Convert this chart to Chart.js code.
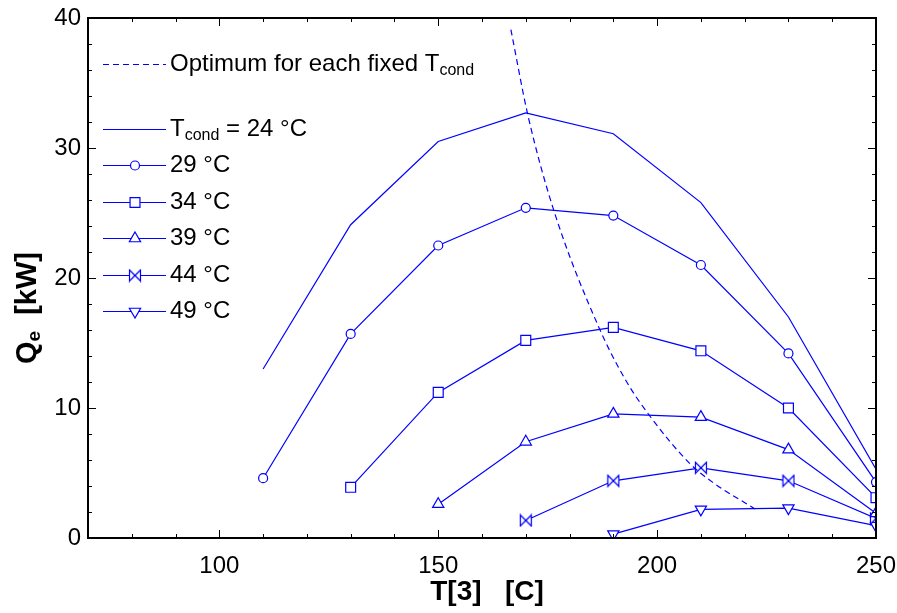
<!DOCTYPE html>
<html>
<head>
<meta charset="utf-8">
<title>Qe vs T[3]</title>
<script src="https://cdn.jsdelivr.net/npm/chart.js@4.4.1/dist/chart.umd.min.js"></script>
<style>
  html, body { margin: 0; padding: 0; background: #fff; }
  #wrap { width: 897px; height: 613px; }
</style>
</head>
<body>
<div id="wrap"><canvas id="chart" width="897" height="613"></canvas></div>
<script>
/* ─── Data ───────────────────────────────────────────────────────────────── */
const t3     = [110, 130, 150, 170, 190, 210, 230, 250];
const qe24   = [13.0, 24.1, 30.5, 32.7, 31.1, 25.8, 17.0, 5.3];
const qe29   = [4.6, 15.7, 22.5, 25.4, 24.8, 21.0, 14.2, 4.3];
const qe34   = [null, 3.9, 11.2, 15.2, 16.2, 14.4, 10.0, 3.1];
const qe39   = [null, null, 2.6, 7.4, 9.55, 9.3, 6.8, 1.9];
const qe44   = [null, null, null, 1.35, 4.4, 5.4, 4.4, 1.5];
const qe49   = [null, null, null, null, 0.3, 2.2, 2.3, 0.95];
const optT3  = [166.6, 170.5, 176.4, 186.7, 192.8, 198.6, 207.5, 212.7, 222.4];
const optQe  = [39.1, 32.5, 25.2, 16.2, 12.15, 9.27, 5.72, 4.28, 2.23];
const xTickLabels = [100, 150, 200, 250];
const yTickLabels = [0, 10, 20, 30, 40];

const BLUE = '#0000ff';
const FONT = '"Liberation Sans", Arial, sans-serif';

Chart.defaults.font.family = FONT;
Chart.defaults.color = '#000';

/* ─── Helpers ────────────────────────────────────────────────────────────── */
function pts(xs, ys) {
  return xs.map((x, i) => ({ x, y: ys[i] })).filter(p => p.y !== null);
}

// bowtie marker |><| as a small canvas
function bowtieMarker() {
  const c = document.createElement('canvas');
  c.width = 14; c.height = 14;
  const g = c.getContext('2d');
  g.strokeStyle = BLUE;
  g.fillStyle = '#fff';
  g.lineWidth = 1.2;
  g.beginPath();
  g.moveTo(1.5, 1.5); g.lineTo(12.5, 12.5); g.lineTo(12.5, 1.5); g.lineTo(1.5, 12.5); g.closePath();
  g.fill(); g.stroke();
  return c;
}
const bowtie = bowtieMarker();

function series(label, ys, style, radius, rotation = 0) {
  return {
    label,
    data: pts(t3, ys),
    borderColor: BLUE,
    borderWidth: 1.2,
    backgroundColor: '#fff',
    pointStyle: style,
    pointRadius: style ? radius : 0,
    pointRotation: rotation,
    pointBorderWidth: 1.2,
    pointBackgroundColor: '#fff',
    pointBorderColor: BLUE,
    tension: 0
  };
}

// text with a subscript piece: parts = [[text, size, dy, bold]]
function richText(ctx, parts, x, y, align = 'left') {
  let total = 0;
  parts.forEach(([t, s, , b]) => { ctx.font = `${b ? 'bold ' : ''}${s}px ${FONT}`; total += ctx.measureText(t).width; });
  let cx = align === 'center' ? x - total / 2 : x;
  ctx.textAlign = 'left';
  parts.forEach(([t, s, dy, b]) => {
    ctx.font = `${b ? 'bold ' : ''}${s}px ${FONT}`;
    ctx.fillText(t, cx, y + dy);
    cx += ctx.measureText(t).width;
  });
}

/* ─── Frame, inner ticks, legend and axis titles ─────────────────────────── */
const decorPlugin = {
  id: 'decor',
  afterDatasetsDraw(chart) {
    const { ctx, chartArea: a, scales: { x, y } } = chart;
    ctx.save();
    ctx.strokeStyle = '#000';
    ctx.lineWidth = 1;
    ctx.beginPath();
    x.ticks.forEach(t => {
      const px = Math.round(x.getPixelForValue(t.value)) + 0.5;
      const len = t.value % 50 === 0 ? 8 : 4;
      ctx.moveTo(px, a.bottom); ctx.lineTo(px, a.bottom - len);
      ctx.moveTo(px, a.top);    ctx.lineTo(px, a.top + len);
    });
    y.ticks.forEach(t => {
      const py = Math.round(y.getPixelForValue(t.value)) + 0.5;
      const len = t.value % 10 === 0 ? 8 : 4;
      ctx.moveTo(a.left, py);  ctx.lineTo(a.left + len, py);
      ctx.moveTo(a.right, py); ctx.lineTo(a.right - len, py);
    });
    ctx.stroke();
    ctx.lineWidth = 2;
    ctx.strokeRect(a.left, a.top, a.right - a.left, a.bottom - a.top);

    /* legend */
    const x0 = 103, x1 = 166, tx = 170;
    const rows = [64, 129, 165, 202, 238, 275, 311];
    const sets = chart.data.datasets;
    ctx.fillStyle = '#000';
    ctx.textBaseline = 'middle';
    sets.forEach((ds, i) => {
      const ry = rows[i] + 0.5;
      ctx.strokeStyle = BLUE;
      ctx.lineWidth = ds.borderWidth;
      ctx.setLineDash(ds.borderDash || []);
      ctx.beginPath(); ctx.moveTo(x0, ry); ctx.lineTo(x1, ry); ctx.stroke();
      ctx.setLineDash([]);
      if (ds.pointRadius) {
        ctx.fillStyle = '#fff';
        Chart.helpers.drawPoint(ctx, {
          pointStyle: ds.pointStyle, rotation: ds.pointRotation,
          radius: ds.pointRadius, borderWidth: ds.pointBorderWidth
        }, 135, ry);
      }
      ctx.fillStyle = '#000';
    });
    richText(ctx, [['Optimum for each fixed T', 24, 0], ['cond', 16, 7]], tx, rows[0]);
    richText(ctx, [['T', 24, 0], ['cond', 16, 7], [' = 24 °C', 24, 0]], tx, rows[1]);
    ['29 °C', '34 °C', '39 °C', '44 °C', '49 °C'].forEach((s, i) => {
      ctx.font = `24px ${FONT}`;
      ctx.textAlign = 'left';
      ctx.fillText(s, tx, rows[i + 2]);
    });

    /* axis titles */
    richText(ctx, [['T[3]   [C]', 28, 0, true]], (a.left + a.right) / 2 + 5, 592, 'center');
    ctx.translate(28, 308);
    ctx.rotate(-Math.PI / 2);
    richText(ctx, [['Q', 29, 0, true], ['e', 19, 7, true], ['  [kW]', 29, 0, true]], 0, 0, 'center');
    ctx.restore();
  }
};

/* ─── Chart ──────────────────────────────────────────────────────────────── */
new Chart(document.getElementById('chart'), {
  type: 'line',
  data: {
    datasets: [
      {
        label: 'Optimum for each fixed Tcond',
        data: pts(optT3, optQe),
        borderColor: BLUE,
        borderWidth: 1.2,
        borderDash: [6, 4],
        pointRadius: 0,
        cubicInterpolationMode: 'monotone'
      },
      series('Tcond = 24 °C', qe24, false, 0),
      series('29 °C', qe29, 'circle', 4.5),
      series('34 °C', qe34, 'rect', 7),
      series('39 °C', qe39, 'triangle', 6.5),
      series('44 °C', qe44, bowtie, 7),
      series('49 °C', qe49, 'triangle', 6.5, 180)
    ]
  },
  options: {
    responsive: false,
    animation: false,
    devicePixelRatio: 1,
    layout: { padding: { left: 0, right: 21, top: 18, bottom: 0 } },
    plugins: { legend: { display: false }, tooltip: { enabled: false } },
    scales: {
      x: {
        type: 'linear', min: 70, max: 250,
        grid: { display: false, drawTicks: false },
        border: { display: false },
        ticks: {
          stepSize: 10, padding: 14, maxRotation: 0, autoSkip: false,
          font: { size: 24 },
          callback: v => xTickLabels.includes(v) ? String(v) : ''
        },
        afterFit: s => { s.height = 75; s.paddingLeft = 0; s.paddingRight = 0; }
      },
      y: {
        type: 'linear', min: 0, max: 40,
        grid: { display: false, drawTicks: false },
        border: { display: false },
        ticks: {
          stepSize: 2, padding: 7, autoSkip: false,
          font: { size: 24 },
          callback: v => yTickLabels.includes(v) ? String(v) : ''
        },
        afterFit: s => { s.width = 88; s.paddingTop = 0; s.paddingBottom = 0; }
      }
    }
  },
  plugins: [decorPlugin]
});
</script>
</body>
</html>
